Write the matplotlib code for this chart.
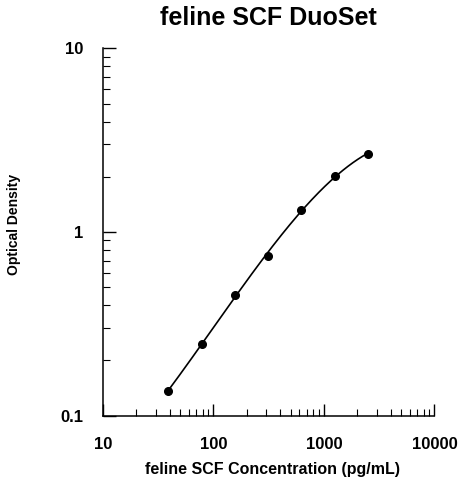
import numpy as np
import matplotlib
matplotlib.use('Agg')
from matplotlib import pyplot as plt
from matplotlib.ticker import LogLocator, NullFormatter, FixedLocator, FixedFormatter

# standard curve points
conc = [39.06, 78.13, 156.25, 312.5, 625, 1250, 2500]
od = [0.137, 0.245, 0.456, 0.743, 1.318, 2.02, 2.67]

x_ticks = [10, 100, 1000, 10000]
x_labels = ['10', '100', '1000', '10000']
y_ticks = [0.1, 1, 10]
y_labels = ['0.1', '1', '10']

plt.rcParams['font.family'] = ['Liberation Sans', 'DejaVu Sans']
plt.rcParams['font.weight'] = 'bold'

fig = plt.figure(figsize=(4.59, 4.8), dpi=100)
ax = fig.add_axes([0.2244, 0.134, 0.7222, 0.765])

# smooth fit in log-log space
lx = np.log10(conc)
ly = np.log10(od)
coef = np.polyfit(lx, ly, 3)
xs = np.linspace(lx[0], lx[-1], 200)
ax.plot(10 ** xs, 10 ** np.polyval(coef, xs), color='black', lw=1.2)
ax.plot(conc, od, 'o', color='black', markersize=5.5)

ax.set_xscale('log')
ax.set_yscale('log')
ax.set_xlim(10, 10000)
ax.set_ylim(0.1, 10)

ax.xaxis.set_major_locator(FixedLocator(x_ticks))
ax.xaxis.set_major_formatter(FixedFormatter(x_labels))
ax.yaxis.set_major_locator(FixedLocator(y_ticks))
ax.yaxis.set_major_formatter(FixedFormatter(y_labels))
ax.xaxis.set_minor_locator(LogLocator(base=10, subs=np.arange(2, 10)))
ax.yaxis.set_minor_locator(LogLocator(base=10, subs=np.arange(2, 10)))
ax.xaxis.set_minor_formatter(NullFormatter())
ax.yaxis.set_minor_formatter(NullFormatter())

ax.tick_params(which='major', direction='in', length=9, width=1.0, labelsize=12, pad=14)
ax.tick_params(which='minor', direction='in', length=5, width=0.8)
ax.tick_params(axis='x', which='major', pad=15)

for s in ['top', 'right']:
    ax.spines[s].set_visible(False)
for s in ['left', 'bottom']:
    ax.spines[s].set_linewidth(1.1)

for lab in ax.get_xticklabels() + ax.get_yticklabels():
    lab.set_fontweight('bold')

ax.set_title('feline SCF DuoSet', fontsize=18, fontweight='bold', pad=17)
ax.set_xlabel('feline SCF Concentration (pg/mL)', fontsize=11.5, fontweight='bold')
ax.set_ylabel('Optical Density', fontsize=10, fontweight='bold')
ax.xaxis.set_label_coords(0.51, -0.147)
ax.yaxis.set_label_coords(-0.268, 0.522)
ax.xaxis.label.set_va('center')
ax.yaxis.label.set_va('center')

fig.savefig('out.png', dpi=100)
